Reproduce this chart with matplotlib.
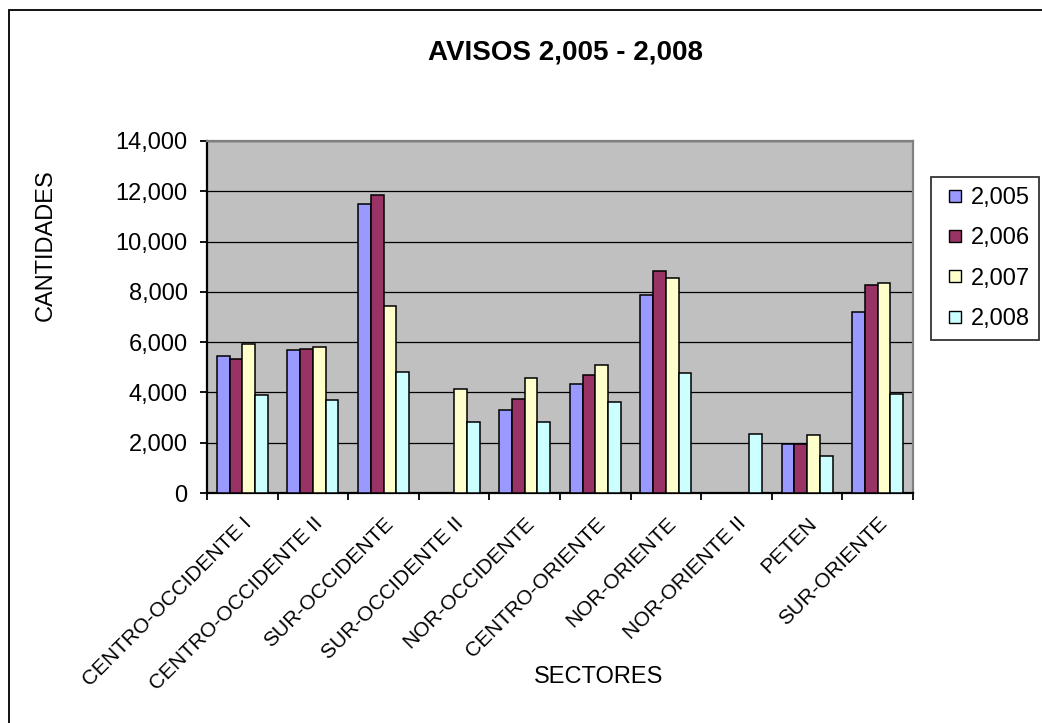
import numpy as np
import matplotlib.pyplot as plt
from matplotlib.patches import Rectangle
from matplotlib.lines import Line2D
from matplotlib.ticker import FuncFormatter, FixedLocator

plt.rcParams["font.family"] = ["Liberation Sans", "DejaVu Sans"]

# Data
sectores = [
    "CENTRO-OCCIDENTE I",
    "CENTRO-OCCIDENTE II",
    "SUR-OCCIDENTE",
    "SUR-OCCIDENTE II",
    "NOR-OCCIDENTE",
    "CENTRO-ORIENTE",
    "NOR-ORIENTE",
    "NOR-ORIENTE II",
    "PETEN",
    "SUR-ORIENTE",
]
years = ["2,005", "2,006", "2,007", "2,008"]
avisos_2005 = [5460, 5670, 11500, 0, 3320, 4355, 7860, 0, 1950, 7180]
avisos_2006 = [5325, 5740, 11845, 0, 3745, 4700, 8815, 0, 1950, 8275]
avisos_2007 = [5940, 5790, 7450, 4155, 4570, 5110, 8565, 0, 2300, 8340]
avisos_2008 = [3880, 3680, 4830, 2830, 2830, 3600, 4755, 2365, 1475, 3930]

series = [avisos_2005, avisos_2006, avisos_2007, avisos_2008]
colors = ["#9999FF", "#993366", "#FFFFCC", "#CCFFFF"]

W, H = 1042, 723
fig = plt.figure(figsize=(W / 100, H / 100), dpi=100)

# plot area in pixels: left 207, right 913, top 141, bottom 493
ax = fig.add_axes([207 / W, 1 - 493 / H, (913 - 207) / W, (493 - 141) / H])
ax.set_facecolor("#C0C0C0")

x = np.arange(len(sectores))
width = 0.18
for i, (vals, col, lab) in enumerate(zip(series, colors, years)):
    ax.bar(x + (i - 1.5) * width, vals, width, color=col,
           edgecolor="black", linewidth=1.1, label=lab, zorder=3)

ax.set_xlim(-0.5, len(sectores) - 0.5)
ax.set_ylim(0, 14000)
ax.set_yticks(np.arange(0, 14001, 2000))
ax.yaxis.set_major_formatter(FuncFormatter(lambda v, p: f"{int(v):,}"))
ax.grid(axis="y", color="black", linewidth=0.9, zorder=1)
ax.set_axisbelow(True)

# ticks at category boundaries, labels at centers
ax.xaxis.set_major_locator(FixedLocator(np.arange(-0.5, len(sectores), 1.0)))
ax.xaxis.set_minor_locator(FixedLocator(x))
ax.set_xticklabels([], minor=False)
ax.set_xticklabels(sectores, minor=True, rotation=45, ha="right",
                   va="top", rotation_mode="anchor", fontsize=15)
ax.tick_params(axis="x", which="major", length=5, width=1.3, direction="out")
ax.tick_params(axis="x", which="minor", length=0, pad=15)
ax.tick_params(axis="y", length=5, width=1.3, direction="out", pad=9,
               labelsize=17)

for s in ["left", "bottom"]:
    ax.spines[s].set_color("black")
    ax.spines[s].set_linewidth(1.6)
for s in ["top", "right"]:
    ax.spines[s].set_color("#808080")
    ax.spines[s].set_linewidth(1.6)

ax.set_ylabel("CANTIDADES", fontsize=17)
ax.yaxis.set_label_coords(-0.2125, 0.705)
fig.text(599 / W, 1 - 677 / H, "SECTORES", fontsize=17, ha="center", va="center")
fig.text(566 / W, 1 - 52 / H, "AVISOS 2,005 - 2,008", fontsize=20,
         fontweight="bold", ha="center", va="center")

# legend with small square keys
keys = [Line2D([], [], linestyle="none", marker="s", markersize=9,
               markerfacecolor=c, markeredgecolor="black",
               markeredgewidth=1.0) for c in colors]
leg = fig.legend(keys, years, loc="upper left",
                 bbox_to_anchor=(931 / W, 1 - 177 / H), fontsize=17,
                 frameon=True, fancybox=False, edgecolor="black",
                 handlelength=1.2, handletextpad=0.05, numpoints=1,
                 labelspacing=0.78, borderpad=0.42, borderaxespad=0)
leg.get_frame().set_linewidth(1.3)

# outer chart border (runs off the right and bottom edges)
fig.patches.append(Rectangle((9 / W, -0.1), 1.2, 1 - 10 / H + 0.1,
                             transform=fig.transFigure, fill=False,
                             edgecolor="black", linewidth=1.3))

fig.savefig("out.png", dpi=100)
